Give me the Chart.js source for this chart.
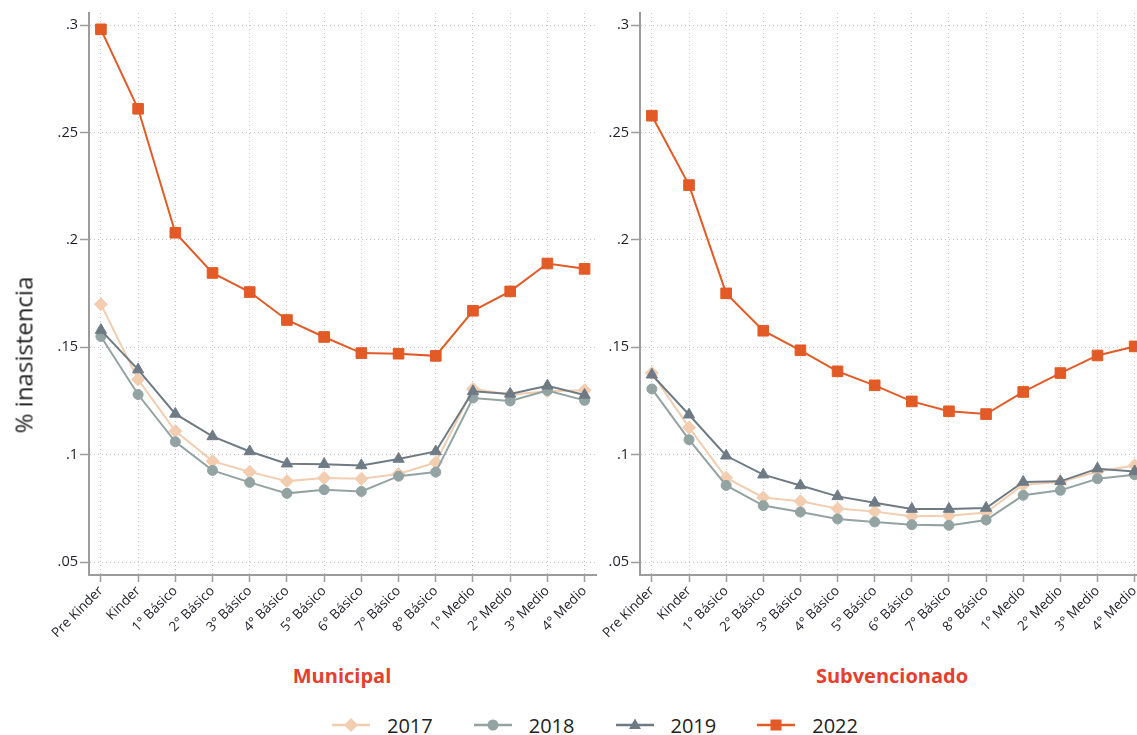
<!DOCTYPE html>
<html>
<head>
<meta charset="utf-8">
<title>% inasistencia por nivel</title>
<script src="https://cdn.jsdelivr.net/npm/chart.js@4"></script>
<style>
  html, body { margin: 0; padding: 0; background: #fff; overflow: hidden; }
  #wrap { position: relative; width: 1137px; height: 735px; overflow: hidden; background: #fff; }
  canvas { position: absolute; top: 0; }
  #cMun { left: 0; }
  #cSub { left: 560px; }
  .ytitle { position: absolute; left: 23px; top: 355px; transform: translate(-50%, -50%) rotate(-90deg);
            font: 24px 'Open Sans', sans-serif; color: #222; white-space: nowrap; }
  .ptitle { position: absolute; top: 675px; transform: translate(-50%, -50%);
            font: bold 20px 'Open Sans', sans-serif; color: #e4402f; white-space: nowrap; }
  #legend { position: absolute; left: 332px; top: 725px; transform: translateY(-50%);
            display: flex; align-items: center; gap: 41px; font: 20px 'Open Sans', sans-serif; color: #222; }
  .item { display: flex; align-items: center; gap: 17px; }
  .item svg { display: block; }
</style>
</head>
<body>
<div id="wrap">
  <canvas id="cMun" width="605" height="650"></canvas>
  <canvas id="cSub" width="595" height="650"></canvas>
  <div class="ytitle">% inasistencia</div>
  <div class="ptitle" style="left:342px">Municipal</div>
  <div class="ptitle" style="left:892px">Subvencionado</div>
  <div id="legend"></div>
</div>
<script>
// School levels on the horizontal axis
const grades = ['Pre Kinder', 'Kinder', '1° Básico', '2° Básico', '3° Básico', '4° Básico',
  '5° Básico', '6° Básico', '7° Básico', '8° Básico', '1° Medio', '2° Medio', '3° Medio', '4° Medio'];

const years = ['2017', '2018', '2019', '2022'];

// Share of students with chronic absence, municipal schools
const municipal2017 = [0.170, 0.135, 0.111, 0.097, 0.092, 0.0877, 0.0892, 0.0888, 0.091, 0.0964, 0.1306, 0.1279, 0.1295, 0.130];
const municipal2018 = [0.155, 0.128, 0.106, 0.0927, 0.0871, 0.082, 0.0837, 0.0829, 0.090, 0.0919, 0.1264, 0.1250, 0.1299, 0.1253];
const municipal2019 = [0.158, 0.1396, 0.119, 0.1085, 0.1015, 0.0958, 0.0956, 0.0950, 0.0980, 0.1015, 0.1295, 0.1283, 0.1321, 0.1278];
const municipal2022 = [0.298, 0.261, 0.2033, 0.1846, 0.1757, 0.1627, 0.1548, 0.1473, 0.1470, 0.1460, 0.1670, 0.1760, 0.1890, 0.1865];

// Share of students with chronic absence, subsidised schools
const subvencionado2017 = [0.138, 0.1127, 0.0892, 0.0801, 0.0783, 0.0749, 0.0735, 0.0713, 0.0716, 0.0731, 0.0860, 0.0873, 0.0922, 0.0950];
const subvencionado2018 = [0.1306, 0.107, 0.0857, 0.0763, 0.0733, 0.0701, 0.0687, 0.0674, 0.0671, 0.0696, 0.0811, 0.0834, 0.0888, 0.0907];
const subvencionado2019 = [0.1372, 0.1186, 0.0995, 0.0907, 0.0857, 0.0806, 0.0776, 0.0747, 0.0747, 0.0752, 0.0873, 0.0876, 0.0935, 0.0922];
const subvencionado2022 = [0.2578, 0.2255, 0.1751, 0.1577, 0.1486, 0.1388, 0.1323, 0.1248, 0.1202, 0.1189, 0.1292, 0.1380, 0.1462, 0.1504];

const yTickValues = [0.05, 0.10, 0.15, 0.20, 0.25, 0.30];
const yTickLabels = ['.05', '.1', '.15', '.2', '.25', '.3'];

// Visual style per year
const styles = {
  '2017': { color: '#f2cdb0', point: 'rectRot', radius: 6.5 },
  '2018': { color: '#93a3a2', point: 'circle', radius: 5 },
  '2019': { color: '#6e7b85', point: 'triangle', radius: 6.5 },
  '2022': { color: '#e25a26', point: 'rect', radius: 7.5 }
};

function makeDatasets(seriesList) {
  return seriesList.map((values, k) => {
    const y = years[k];
    const s = styles[y];
    return {
      label: y,
      data: values.map((v, i) => ({ x: i, y: v })),
      borderColor: s.color,
      backgroundColor: s.color,
      pointBackgroundColor: s.color,
      pointBorderColor: s.color,
      pointBorderWidth: 1,
      pointStyle: s.point,
      pointRadius: s.radius,
      borderWidth: 2,
      tension: 0,
      order: 4 - k
    };
  });
}

const gridColor = '#c4c4c4';
const axisColor = '#9c9c9c';

function makeChart(id, seriesList, yAxisWidth, rightPad) {
  const ctx = document.getElementById(id);
  const H = ctx.height;
  return new Chart(ctx, {
    type: 'line',
    data: { datasets: makeDatasets(seriesList) },
    options: {
      responsive: false,
      devicePixelRatio: 1,
      animation: false,
      layout: { padding: { top: 13, right: rightPad, bottom: 0, left: 0 } },
      plugins: { legend: { display: false }, tooltip: { enabled: false } },
      scales: {
        x: {
          type: 'linear',
          min: -0.32,
          max: grades.length - 1 + 0.32,
          afterBuildTicks: (s) => { s.ticks = grades.map((_, i) => ({ value: i })); },
          afterFit: (s) => { s.height = H - 575; },
          ticks: {
            autoSkip: false,
            minRotation: 45,
            maxRotation: 45,
            padding: 1,
            color: '#1e1e2a',
            font: { family: 'Open Sans', size: 13.5 },
            callback: (v) => grades[v] ?? ''
          },
          grid: {
            color: gridColor, lineWidth: 1, drawTicks: true, tickLength: 7,
            tickColor: axisColor, tickWidth: 1.5, tickBorderDash: []
          },
          border: { display: true, color: axisColor, width: 2, dash: [1, 3] }
        },
        y: {
          type: 'linear',
          min: 0.044,
          max: 0.3056,
          afterBuildTicks: (s) => { s.ticks = yTickValues.map(v => ({ value: v })); },
          afterFit: (s) => { s.width = yAxisWidth; },
          ticks: {
            padding: 2,
            color: '#1e1e2a',
            font: { family: 'Open Sans', size: 14.5 },
            callback: (v, i) => yTickLabels[i]
          },
          grid: {
            color: gridColor, lineWidth: 1, drawTicks: true, tickLength: 9,
            tickColor: axisColor, tickWidth: 1.5, tickBorderDash: []
          },
          border: { display: true, color: axisColor, width: 2, dash: [1, 3] }
        }
      }
    }
  });
}

makeChart('cMun', [municipal2017, municipal2018, municipal2019, municipal2022], 89, 3);
makeChart('cSub', [subvencionado2017, subvencionado2018, subvencionado2019, subvencionado2022], 80, 5);

// Legend: a short line with the year's marker, then the year
function markerSvg(y) {
  const s = styles[y];
  const c = s.color;
  let shape = '';
  if (s.point === 'rectRot') shape = `<polygon points="19,3.5 26,10.5 19,17.5 12,10.5" fill="${c}"/>`;
  else if (s.point === 'circle') shape = `<circle cx="19" cy="10.5" r="5.5" fill="${c}"/>`;
  else if (s.point === 'triangle') shape = `<polygon points="19,4 25,14.5 13,14.5" fill="${c}"/>`;
  else shape = `<rect x="13.5" y="5" width="11" height="11" fill="${c}"/>`;
  return `<svg width="38" height="21" viewBox="0 0 38 21"><line x1="0" y1="10.5" x2="38" y2="10.5" stroke="${c}" stroke-width="2.5"/>${shape}</svg>`;
}
const legend = document.getElementById('legend');
years.forEach(y => {
  const item = document.createElement('div');
  item.className = 'item';
  item.innerHTML = markerSvg(y) + `<span>${y}</span>`;
  legend.appendChild(item);
});
</script>
</body>
</html>
